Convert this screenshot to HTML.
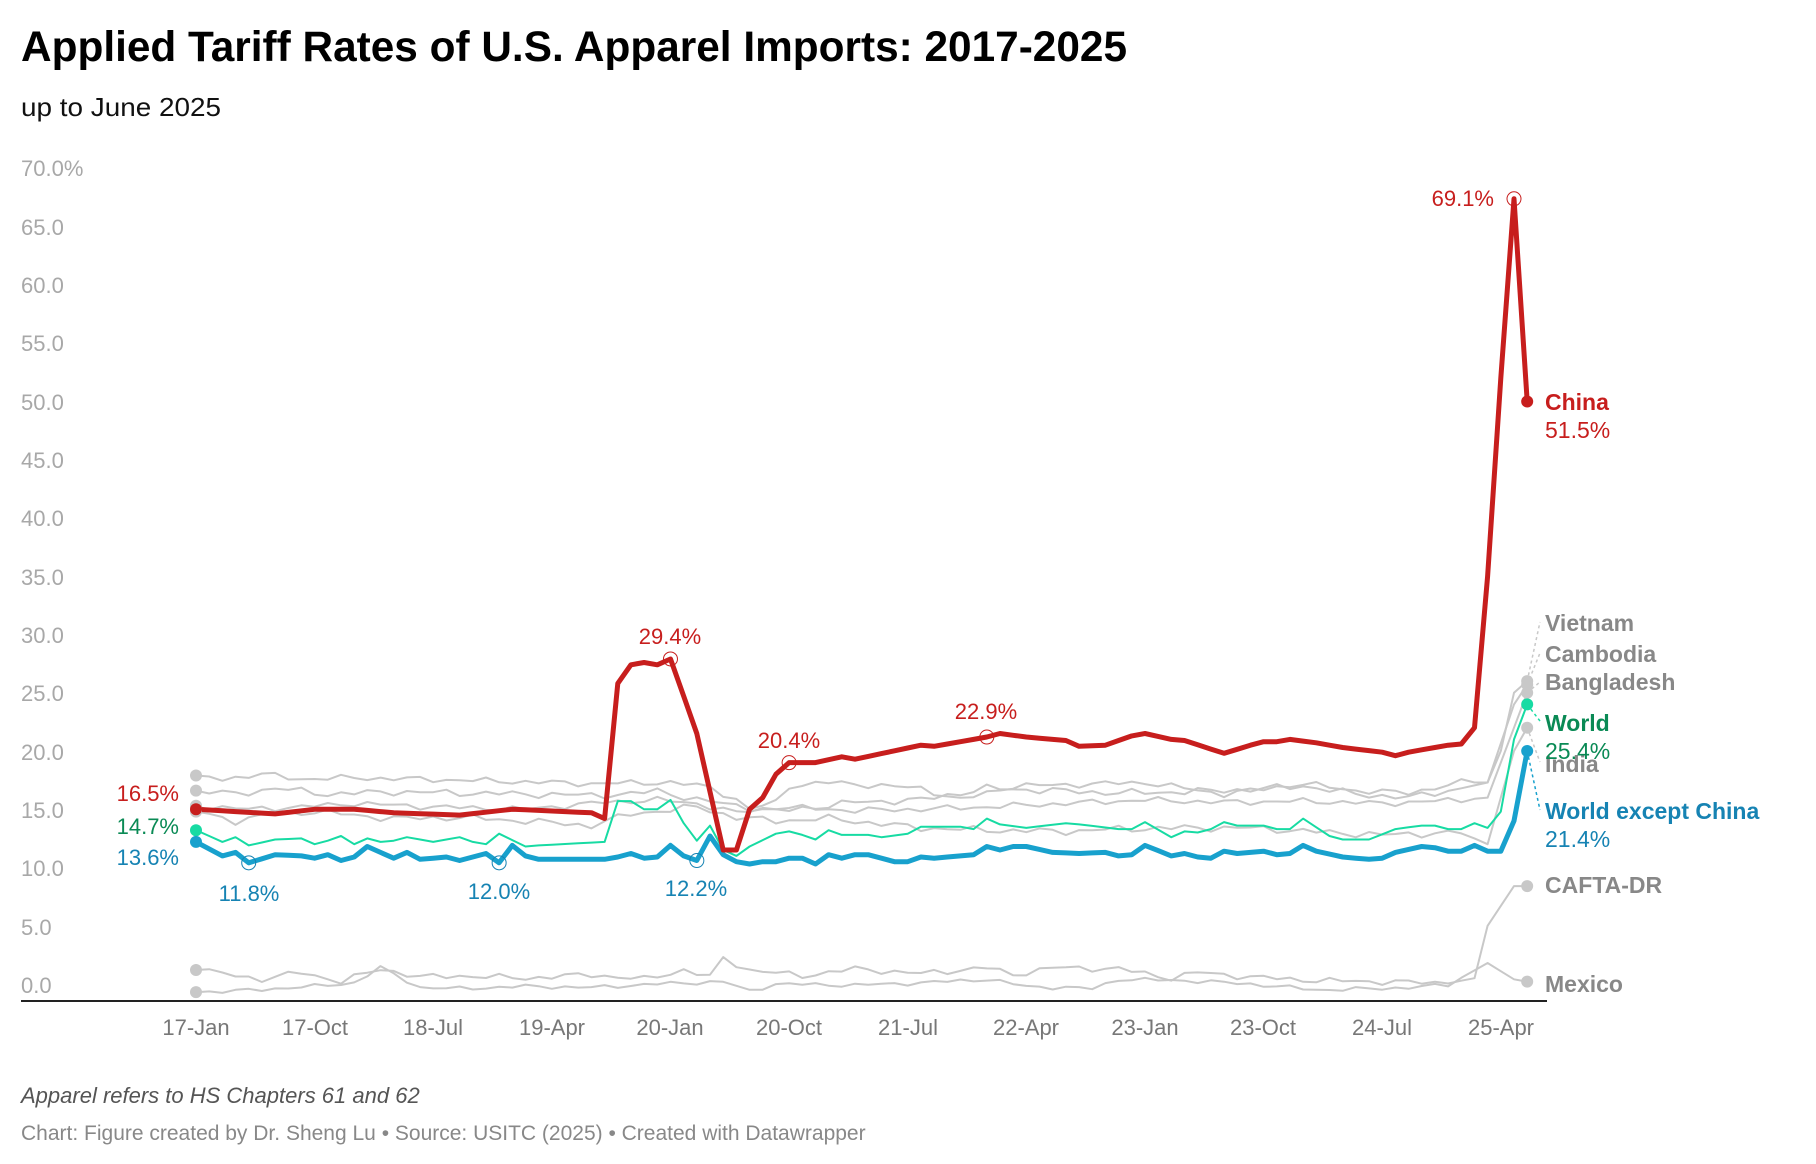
<!DOCTYPE html>
<html><head><meta charset="utf-8"><style>
html,body{margin:0;padding:0;background:#fff;}
svg{display:block;font-family:"Liberation Sans",sans-serif;}
</style></head><body>
<svg id="c" width="1816" height="1164" viewBox="0 0 1816 1164" xmlns="http://www.w3.org/2000/svg">
<text x="21" y="61" font-size="43" font-weight="bold" fill="#000" textLength="1106" lengthAdjust="spacingAndGlyphs">Applied Tariff Rates of U.S. Apparel Imports: 2017-2025</text>
<text x="21" y="116" font-size="26" fill="#111" textLength="200" lengthAdjust="spacingAndGlyphs">up to June 2025</text>
<g font-size="22" fill="#a8a8a8">
<text x="21" y="176">70.0%</text><text x="21" y="235">65.0</text><text x="21" y="293">60.0</text><text x="21" y="351">55.0</text><text x="21" y="410">50.0</text><text x="21" y="468">45.0</text><text x="21" y="526">40.0</text><text x="21" y="585">35.0</text><text x="21" y="643">30.0</text><text x="21" y="701">25.0</text><text x="21" y="760">20.0</text><text x="21" y="818">15.0</text><text x="21" y="876">10.0</text><text x="21" y="935">5.0</text><text x="21" y="993">0.0</text>
</g>
<g id="lines"></g>
<line x1="21" y1="1001" x2="1547" y2="1001" stroke="#222" stroke-width="2"/>
<g font-size="22" fill="#777" text-anchor="middle">
<text x="196" y="1035">17-Jan</text><text x="315" y="1035">17-Oct</text><text x="433" y="1035">18-Jul</text><text x="552" y="1035">19-Apr</text><text x="670" y="1035">20-Jan</text><text x="789" y="1035">20-Oct</text><text x="908" y="1035">21-Jul</text><text x="1026" y="1035">22-Apr</text><text x="1145" y="1035">23-Jan</text><text x="1263" y="1035">23-Oct</text><text x="1382" y="1035">24-Jul</text><text x="1501" y="1035">25-Apr</text>
</g>
<g font-size="22">
<text x="179" y="801" fill="#c71e1d" text-anchor="end">16.5%</text>
<text x="179" y="834" fill="#0a8a55" text-anchor="end">14.7%</text>
<text x="179" y="865" fill="#1683b3" text-anchor="end">13.6%</text>
<text x="249" y="901" fill="#1683b3" text-anchor="middle">11.8%</text>
<text x="499" y="899" fill="#1683b3" text-anchor="middle">12.0%</text>
<text x="696" y="896" fill="#1683b3" text-anchor="middle">12.2%</text>
<text x="670" y="644" fill="#c71e1d" text-anchor="middle">29.4%</text>
<text x="789" y="748" fill="#c71e1d" text-anchor="middle">20.4%</text>
<text x="986" y="719" fill="#c71e1d" text-anchor="middle">22.9%</text>
<text x="1494" y="206" fill="#c71e1d" text-anchor="end">69.1%</text>
</g>
<g font-size="23">
<text x="1545" y="410" fill="#c71e1d" font-weight="bold">China</text>
<text x="1545" y="438" fill="#c71e1d">51.5%</text>
<text x="1545" y="631" fill="#888" font-weight="bold">Vietnam</text>
<text x="1545" y="662" fill="#888" font-weight="bold">Cambodia</text>
<text x="1545" y="690" fill="#888" font-weight="bold">Bangladesh</text>
<text x="1545" y="772" fill="#888" font-weight="bold">India</text>
<text x="1545" y="731" fill="#0a8a55" font-weight="bold">World</text>
<text x="1545" y="759" fill="#0a8a55">25.4%</text>
<text x="1545" y="819" fill="#1683b3" font-weight="bold">World except China</text>
<text x="1545" y="847" fill="#1683b3">21.4%</text>
<text x="1545" y="893" fill="#888" font-weight="bold">CAFTA-DR</text>
<text x="1545" y="992" fill="#888" font-weight="bold">Mexico</text>
</g>
<text x="21" y="1103" font-size="22" font-style="italic" fill="#555">Apparel refers to HS Chapters 61 and 62</text>
<text x="21" y="1140" font-size="21" fill="#888">Chart: Figure created by Dr. Sheng Lu • Source: USITC (2025) • Created with Datawrapper</text>
</svg>
<script>
function X(m){return 196+13.18*m;}
function Y(v){return 984-11.65*v;}
function interp(a,j,seed){var o=[];for(var i=0;i<a.length-2;i+=2){var m0=a[i],v0=a[i+1],m1=a[i+2],v1=a[i+3];for(var m=m0;m<m1;m++){var n=0;if(j&&m>0&&m<97){n=j*(Math.sin(m*2.3+seed)*0.6+Math.sin(m*5.1+seed*2)*0.4);}o.push([m,v0+(v1-v0)*(m-m0)/(m1-m0)+n]);}}o.push([a[a.length-2],a[a.length-1]]);return o;}
function pts(a,j,s){return interp(a,j||0,s||0).map(function(p){return X(p[0]).toFixed(1)+","+Y(p[1]).toFixed(1);}).join(" ");}
var S={
g1:[0,17.9,2,17.6,5,18.0,8,17.6,12,17.7,20,17.5,30,17.2,36,17.3,39,16.9,41,15.8,42,15.0,44,15.6,45,17,48,17.3,55,16.8,58,15.8,62,17.0,66,17.1,72,17.3,78,16.3,84,17.2,88,16.6,92,16.4,96,17.3,98,17.3,99,20,100,25,101,26],
g2:[0,16.6,3,16.3,6,16.8,10,16.3,15,16.5,20,16.4,25,16.3,30,16.2,33,16.3,35,16.6,38,15.8,40,15.5,44,14.8,50,15.6,55,15.8,60,16.8,65,16.6,70,16.4,75,16.5,80,16.7,84,17.0,88,16.3,92,16.0,96,16.8,98,17.3,100,24,101,25.7],
g3:[0,15.3,4,15.0,8,15.2,12,15.5,18,15.2,25,15.0,31,15.6,35,15.8,38,15.5,41,14.7,44,15.2,50,14.9,55,15.0,60,15.2,66,15.5,72,15.8,78,15.6,84,15.7,90,15.5,96,15.8,98,16.0,100,22,101,25],
g4:[0,14.8,3,14.0,6,14.6,9,14.8,15,14.2,20,14.3,25,14.0,30,13.6,33,14.6,38,15.2,41,14.3,44,14.0,48,14.2,55,13.4,60,13.2,66,13.1,70,13.3,75,13.4,80,13.4,86,13.0,90,12.8,96,13.0,98,12.0,100,20,101,22],
caf:[0,1.2,2,0.9,5,0.4,8,1.0,11,0.2,14,1.3,17,0.6,20,0.7,25,0.5,30,0.8,34,0.4,37,1.2,39,0.6,40,2.2,42,1.2,46,0.7,50,1.3,55,0.9,60,1.4,62,0.8,65,1.4,70,1.3,74,0.5,76,1.0,80,0.6,85,0.3,90,0.2,94,0.1,97,0.5,98,5,100,8.4,101,8.4],
mex:[0,-0.7,3,-0.6,6,-0.4,9,-0.2,12,0.1,14,1.4,17,-0.3,20,-0.4,25,-0.2,30,-0.3,35,0.0,40,0.2,42,-0.6,44,0.0,50,-0.1,55,0.1,60,0.4,63,-0.2,68,-0.4,70,0.4,75,0.3,80,0.0,85,-0.5,90,-0.4,95,-0.1,98,1.8,100,0.4,101,0.2],
world:[0,13.2,2,12.2,3,12.6,4,11.9,6,12.4,8,12.5,9,12.0,10,12.3,11,12.7,12,12.0,13,12.5,14,12.2,15,12.3,16,12.6,18,12.2,20,12.6,21,12.2,22,12.0,23,12.9,25,11.8,26,11.9,31,12.2,32,15.7,33,15.7,34,15.0,35,15.0,36,15.8,37,13.8,38,12.3,39,13.6,40,11.5,41,11.0,42,11.8,44,12.9,45,13.1,46,12.8,47,12.4,48,13.2,49,12.8,51,12.8,52,12.6,54,12.9,55,13.5,58,13.5,59,13.3,60,14.2,61,13.7,63,13.4,66,13.8,67,13.7,70,13.3,71,13.3,72,13.9,74,12.6,75,13.1,76,13.0,77,13.3,78,13.9,79,13.6,81,13.6,82,13.3,83,13.3,84,14.2,86,12.7,87,12.4,89,12.4,91,13.3,93,13.6,94,13.6,95,13.3,96,13.3,97,13.8,98,13.4,99,14.8,100,21,101,24],
wxc:[0,12.2,2,11.0,3,11.3,4,10.4,6,11.1,8,11.0,9,10.8,10,11.1,11,10.6,12,10.9,13,11.8,15,10.8,16,11.3,17,10.7,19,10.9,20,10.6,22,11.2,23,10.4,24,11.9,25,11.0,26,10.7,31,10.7,32,10.9,33,11.2,34,10.8,35,10.9,36,11.9,37,11.0,38,10.6,39,12.7,40,11.1,41,10.5,42,10.3,43,10.5,44,10.5,45,10.8,46,10.8,47,10.3,48,11.1,49,10.8,50,11.1,51,11.1,53,10.5,54,10.5,55,10.9,56,10.8,59,11.1,60,11.8,61,11.5,62,11.8,63,11.8,65,11.3,67,11.2,69,11.3,70,11.0,71,11.1,72,11.9,74,11.0,75,11.2,76,10.9,77,10.8,78,11.4,79,11.2,81,11.4,82,11.1,83,11.2,84,11.9,85,11.4,87,10.9,89,10.7,90,10.8,91,11.3,93,11.8,94,11.7,95,11.4,96,11.4,97,11.9,98,11.4,99,11.4,100,14,101,20],
china:[0,15.0,6,14.6,9,15.0,12,15.0,15,14.7,20,14.5,24,15.0,30,14.7,31,14.2,32,25.8,33,27.4,34,27.6,35,27.4,36,27.9,38,21.5,40,11.5,41,11.5,42,15,43,16,44,18,45,19,47,19,49,19.5,50,19.3,55,20.5,56,20.4,60,21.2,61,21.5,63,21.2,66,20.9,67,20.4,69,20.5,71,21.3,72,21.5,74,21,75,20.9,78,19.8,80,20.5,81,20.8,82,20.8,83,21.0,85,20.7,87,20.3,90,19.9,91,19.6,92,19.9,95,20.5,96,20.6,97,22,98,35,99,52,100,67.4,101,50]
};
var h="";
[["g1",0.3,1],["g2",0.35,2],["g3",0.3,3],["g4",0.35,4],["caf",0.3,5],["mex",0.2,6]].forEach(function(k){h+='<polyline points="'+pts(S[k[0]],k[1],k[2])+'" fill="none" stroke="#c8c8c8" stroke-width="2" stroke-linejoin="round"/>';});
h+='<polyline points="'+pts(S.world)+'" fill="none" stroke="#17dba3" stroke-width="2" stroke-linejoin="round"/>';
h+='<polyline points="'+pts(S.wxc)+'" fill="none" stroke="#18a1cd" stroke-width="5" stroke-linejoin="round"/>';
h+='<polyline points="'+pts(S.china)+'" fill="none" stroke="#c71e1d" stroke-width="5" stroke-linejoin="round"/>';
function dot(m,v,c,r){h+='<circle cx="'+X(m)+'" cy="'+Y(v)+'" r="'+r+'" fill="'+c+'"/>';}
function ring(m,v,c){h+='<circle cx="'+X(m)+'" cy="'+Y(v)+'" r="7" fill="none" stroke="'+c+'" stroke-width="1"/>';}
[17.9,16.6,15.3,14.8,1.2,-0.7].forEach(function(v){dot(0,v,"#c8c8c8",6);});
[26,25.7,25,22,8.4,0.2].forEach(function(v){dot(101,v,"#c8c8c8",6);});
dot(0,15.0,"#c71e1d",6);dot(0,13.2,"#17dba3",6);dot(0,12.2,"#18a1cd",6);
dot(101,50,"#c71e1d",6);dot(101,24,"#17dba3",6);dot(101,20,"#18a1cd",6);
ring(4,10.4,"#1683b3");ring(23,10.4,"#1683b3");ring(38,10.6,"#1683b3");
ring(36,27.9,"#c71e1d");ring(45,19,"#c71e1d");ring(60,21.2,"#c71e1d");ring(100,67.4,"#c71e1d");
function lead(m,v,x2,y2,c){h+='<line x1="'+X(m)+'" y1="'+Y(v)+'" x2="'+x2+'" y2="'+y2+'" stroke="'+c+'" stroke-width="1.5" stroke-dasharray="3,3"/>';}
lead(101,26,1540,622,"#c8c8c8");lead(101,25.7,1540,653,"#c8c8c8");lead(101,25,1540,682,"#c8c8c8");
lead(101,22,1540,762,"#c8c8c8");lead(101,24,1540,721,"#17dba3");lead(101,20,1540,810,"#18a1cd");
document.getElementById("lines").innerHTML=h;
</script>
</body></html>
